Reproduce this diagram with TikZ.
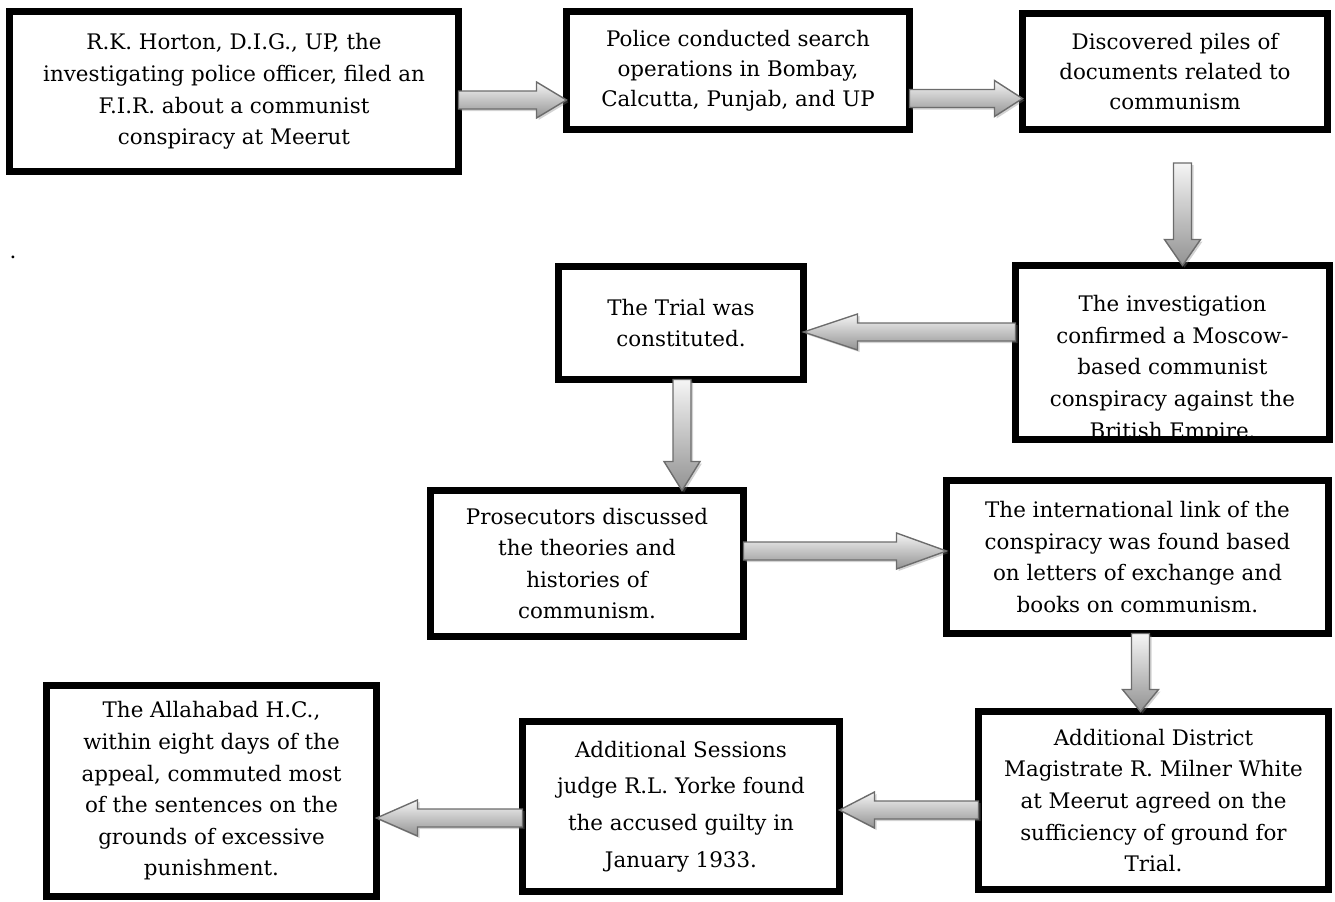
\documentclass[tikz,border=0pt]{standalone}
\usepackage{fontspec}
\setmainfont{DejaVu Serif}
\usetikzlibrary{calc,shadows}
\frenchspacing

\newcommand{\boxfont}{\fontsize{10.7pt}{15.8pt}\selectfont}

\tikzset{
	box/.style={draw=black, line width=3.5pt, fill=white, inner sep=0pt, outer sep=0pt, align=center, font=\boxfont},
	txt/.style={inner sep=0pt, align=center, font=\boxfont},
	blockarr/.style={draw=gray!85!black, line width=0.7pt, top color=gray!8, bottom color=gray!85,
		drop shadow={shadow xshift=1pt, shadow yshift=-1pt, opacity=0.35}},
}

% block arrows: #1 head length (px), #2 tail, #3 tip
\newcommand{\harr}[3]{%
	\path[blockarr] let \p1=#2, \p2=#3, \n1={sign(\x2-\x1)*#1*0.5} in
		(\x1,{\y1+4.5pt}) -- ({\x2-(\n1)},{\y1+4.5pt}) -- ({\x2-(\n1)},{\y1+9pt}) -- (\x2,\y1)
		-- ({\x2-(\n1)},{\y1-9pt}) -- ({\x2-(\n1)},{\y1-4.5pt}) -- (\x1,{\y1-4.5pt}) -- cycle;}
\newcommand{\varr}[3]{%
	\path[blockarr] let \p1=#2, \p2=#3, \n1={sign(\y2-\y1)*#1*0.5} in
		({\x1+4.5pt},\y1) -- ({\x1+4.5pt},{\y2-(\n1)}) -- ({\x1+9pt},{\y2-(\n1)}) -- (\x1,\y2)
		-- ({\x1-9pt},{\y2-(\n1)}) -- ({\x1-4.5pt},{\y2-(\n1)}) -- ({\x1-4.5pt},\y1) -- cycle;}

\begin{document}
\begin{tikzpicture}[x=0.5pt, y=-0.5pt]
	\useasboundingbox (0,0) rectangle (1335,901);

	\node[box, minimum width=224.5pt, minimum height=80pt] (A) at (234,91.5)
		{R.K. Horton, D.I.G., UP, the\\ investigating police officer, filed an\\ F.I.R. about a communist\\ conspiracy at Meerut};
	\node[box, minimum width=171.5pt, minimum height=59pt, font=\fontsize{10.7pt}{15pt}\selectfont] (B) at (738,70.5)
		{Police conducted search\\ operations in Bombay,\\ Calcutta, Punjab, and UP};
	\node[box, minimum width=152.5pt, minimum height=58pt, font=\fontsize{10.7pt}{15pt}\selectfont] (C) at (1175,71.5)
		{Discovered piles of\\ documents related to\\ communism};
	\node[txt] (dot) at (13,257) {.};

	\node[box, minimum width=157pt, minimum height=87pt] (D) at (1172.5,352.5) {};
	\begin{scope}
		\clip (D.north west) rectangle (D.south east);
		\node[txt] (Dtext) at (1172.5,369)
			{The investigation\\ confirmed a Moscow-\\ based communist\\ conspiracy against the\\ British Empire.};
	\end{scope}
	\draw[line width=3.5pt] (D.north west) rectangle (D.south east);

	\node[box, minimum width=122.5pt, minimum height=56.5pt] (E) at (681,323)
		{The Trial was\\ constituted.};
	\node[box, minimum width=156.5pt, minimum height=73pt] (F) at (587,563.5)
		{Prosecutors discussed\\ the theories and\\ histories of\\ communism.};
	\node[box, minimum width=191pt, minimum height=76.5pt] (G) at (1137.5,557)
		{The international link of the\\ conspiracy was found based\\ on letters of exchange and\\ books on communism.};

	\node[box, minimum width=175pt, minimum height=89pt] (H) at (1153.5,800.5)
		{Additional District\\ Magistrate R. Milner White\\ at Meerut agreed on the\\ sufficiency of ground for\\ Trial.};
	\node[box, minimum width=158.5pt, minimum height=85pt, font=\fontsize{10.7pt}{18.3pt}\selectfont] (I) at (681,806.5)
		{Additional Sessions\\ judge R.L. Yorke found\\ the accused guilty in\\ January 1933.};
	\node[box, minimum width=165pt, minimum height=105.5pt] (J) at (211.5,791)
		{The Allahabad H.C.,\\ within eight days of the\\ appeal, commuted most\\ of the sentences on the\\ grounds of excessive\\ punishment.};

	\coordinate (cdtail) at (1182.5,163);
	\harr{30}{(A.east |- 0,100)}{(B.west |- 0,100)}
	\harr{28}{(B.east |- 0,98.5)}{(C.west |- 0,98.5)}
	\varr{26}{(cdtail)}{(cdtail |- D.north)}
	\harr{54}{(D.west |- 0,332)}{(E.east |- 0,332)}
	\varr{29}{(E.south -| 682,0)}{(F.north -| 682,0)}
	\harr{50}{(F.east |- 0,551)}{(G.west |- 0,551)}
	\varr{22}{(G.south -| 1140.5,0)}{(H.north -| 1140.5,0)}
	\harr{35}{(H.west |- 0,810)}{(I.east |- 0,810)}
	\harr{41}{(I.west |- 0,818)}{(J.east |- 0,818)}
\end{tikzpicture}
\end{document}
